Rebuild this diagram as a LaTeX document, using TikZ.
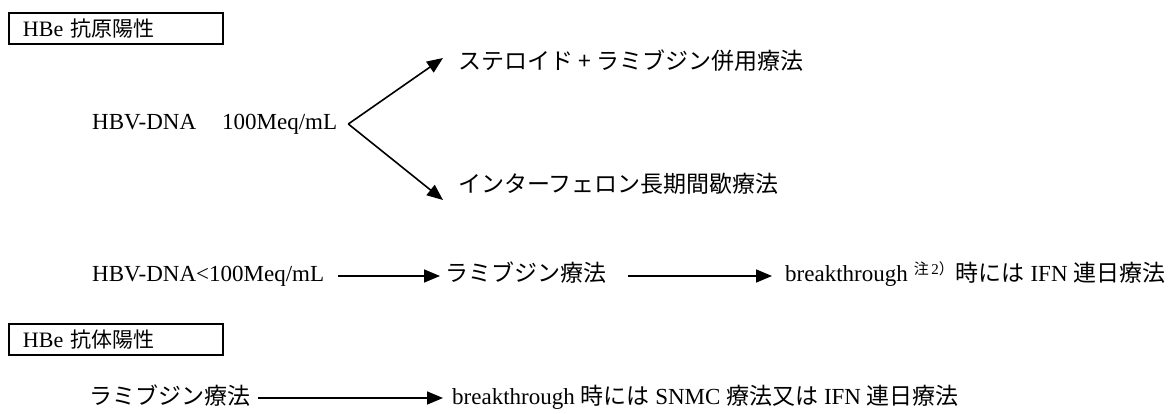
\documentclass[tikz,border=0pt]{standalone}
\usepackage{fontspec}
\setmainfont{Liberation Serif}
\newfontfamily\jp{Noto Sans CJK JP}
\usetikzlibrary{arrows.meta}
\begin{document}
\begin{tikzpicture}[x=1pt,y=-1pt,
  txt/.style={anchor=base west, inner sep=0pt, text height=17pt, text depth=5pt,
    font=\fontsize{23}{27}\selectfont},
  hbox/.style={draw, line width=2pt, anchor=north west, minimum height=31pt,
    text width=186pt, inner xsep=14pt, inner ysep=0pt,
    font=\fontsize{22}{26}\selectfont},
  arr/.style={line width=1.6pt, -{Triangle[length=16pt,width=13pt]}}]
\useasboundingbox (0,0) rectangle (1173,414);
% section 1
\node[hbox] (b1) at (8,12) {HBe {\jp\fontsize{21}{25}\selectfont 抗原陽性}};
\node[txt] (r1) at (92,130) {HBV-DNA\hspace{26pt}100Meq/mL};
\node[txt] (u) at (458,70) {\jp ステロイド + ラミブジン併用療法};
\node[txt] (l) at (458,193) {\jp インターフェロン長期間歇療法};
\coordinate (v) at ([xshift=11pt]r1.east);
\coordinate (tu) at ([xshift=-15pt,yshift=6pt]u.west);
\coordinate (tl) at ([xshift=-15pt,yshift=-13pt]l.west);
\draw[arr] (v) -- (tu);
\draw[arr] (v) -- (tl);
% row 3
\node[txt] (r3a) at (92,282) {HBV-DNA<100Meq/mL};
\node[txt] (r3b) at (445,282) {\jp ラミブジン療法};
\node[txt] (r3c) at (785,282) {breakthrough\hspace{6pt}\raisebox{8pt}{\fontsize{15}{17}\selectfont{\jp 注}\,2{\jp ）}}\hspace{2pt}{\jp 時には} IFN {\jp 連日療法}};
\draw[arr] ([xshift=14pt]r3a.east) -- ([xshift=-5pt]r3b.west);
\draw[arr] ([xshift=22pt]r3b.east) -- ([xshift=-13pt]r3c.west);
% section 2
\node[hbox] (b2) at (8,323) {HBe {\jp\fontsize{21}{25}\selectfont 抗体陽性}};
\node[txt] (r5a) at (89,404) {\jp ラミブジン療法};
\node[txt] (r5b) at (452,404) {breakthrough {\jp 時には} SNMC {\jp 療法又は} IFN {\jp 連日療法}};
\draw[arr] ([xshift=8pt]r5a.east) -- ([xshift=-9pt]r5b.west);
\end{tikzpicture}
\end{document}
